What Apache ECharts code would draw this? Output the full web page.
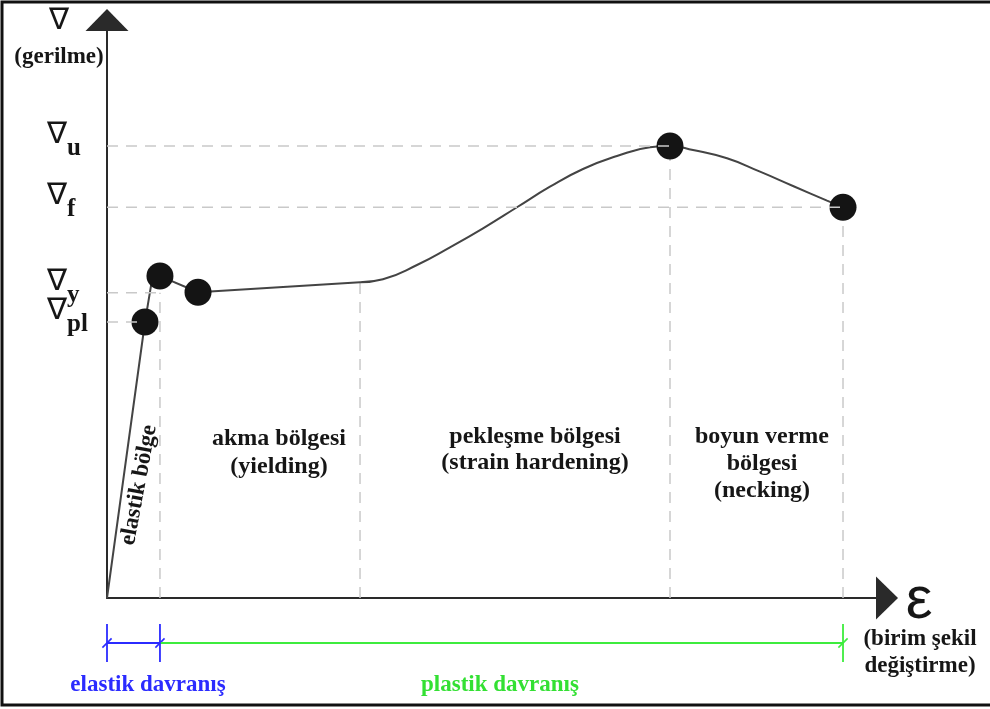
<!DOCTYPE html>
<html>
<head>
<meta charset="utf-8">
<script src="https://cdn.jsdelivr.net/npm/echarts@6/dist/echarts.min.js"></script>
<style>
  html, body { margin: 0; padding: 0; background: #fff; }
  #chart { width: 990px; height: 709px; }
</style>
</head>
<body>
<div id="chart"></div>
<script>
// strain (x) and stress (y) in relative units, 0..100
const curveSharp = [[0, 0], [4.87, 47.75], [5.64, 54.0], [6.79, 55.7], [11.67, 52.9], [32.44, 54.62]]
const curveSmooth = [[32.44, 54.62], [35.38, 55.14], [39.74, 57.61], [43.97, 60.67], [48.21, 63.96],
  [52.56, 67.6], [56.79, 71.16], [61.03, 74.22], [65.38, 76.47], [69.62, 77.98], [72.18, 78.2],
  [75.13, 77.51], [79.49, 76.07], [83.72, 73.76], [87.95, 71.28], [92.31, 68.74], [94.36, 67.6]]
const keyPoints = [[4.87, 47.75], [6.79, 55.7], [11.67, 52.9], [72.18, 78.2], [94.36, 67.6]]

// stress levels on the y axis (pl, y, f, u) and where their guide lines stop
const stressLevels = [47.75, 52.8, 67.6, 78.2]
const stressSubs = ['pl', 'y', 'f', 'u']
const levelEnds = [4.87, 6.79, 94.36, 72.18]

// region boundaries on the strain axis and the height of their guide lines
const regionBounds = [6.79, 32.44, 72.18, 94.36]
const regionTops = [52.8, 54.62, 78.2, 67.6]

const elasticSpan = [0, 6.79]
const plasticSpan = [6.79, 94.36]

const BLUE = '#2b2bff'
const GREEN = '#3dec3d'
const INK = '#161616'
const boldSerif = (size) => 'bold ' + size + 'px "Liberation Serif", "DejaVu Serif", serif'

const chart = echarts.init(document.getElementById('chart'))

const axisArrow = {
  show: true,
  symbol: ['none', 'triangle'],
  symbolSize: [43, 22],
  lineStyle: { color: '#2a2a2a', width: 2 },
}

const guideStyle = { color: '#c9c9c9', width: 1.5, type: [11, 8] }

const guideSeries = []
stressLevels.forEach((y, i) => {
  guideSeries.push({
    type: 'line', xAxisIndex: 0, yAxisIndex: 0, z: 4, silent: true,
    showSymbol: false, lineStyle: guideStyle,
    data: [[0, y], [levelEnds[i], y]],
  })
})
regionBounds.forEach((x, i) => {
  guideSeries.push({
    type: 'line', xAxisIndex: 0, yAxisIndex: 0, z: 1, silent: true,
    showSymbol: false, lineStyle: guideStyle,
    data: [[x, 0], [x, regionTops[i]]],
  })
})

const option = {
  animation: false,
  backgroundColor: '#fff',
  grid: [
    { left: 107, right: 103, top: 20, bottom: 111, outerBoundsMode: 'none', containLabel: false },
    { left: 107, right: 103, top: 625, height: 36, outerBoundsMode: 'none', containLabel: false },
  ],
  xAxis: [
    {
      type: 'value', gridIndex: 0, min: 0, max: 100,
      axisLine: axisArrow,
      axisTick: { show: false }, axisLabel: { show: false }, splitLine: { show: false },
    },
    {
      type: 'value', gridIndex: 1, min: 0, max: 100, show: false,
    },
  ],
  yAxis: [
    {
      type: 'value', gridIndex: 0, min: 0, max: 100,
      axisLine: axisArrow,
      axisTick: { show: false }, axisLabel: { show: false }, splitLine: { show: false },
    },
    {
      type: 'value', gridIndex: 1, min: -1, max: 1, show: false,
    },
  ],
  series: [
    ...guideSeries,
    // stress level labels, placed at the levels on the y axis
    {
      type: 'scatter', xAxisIndex: 0, yAxisIndex: 0, silent: true,
      symbolSize: 0,
      itemStyle: { color: INK, opacity: 1 },
      data: stressLevels.map((y) => [0, y]),
      label: {
        show: true,
        position: [-60, 0],
        align: 'left',
        verticalAlign: 'middle',
        color: INK,
        opacity: 1,
        padding: [0, 0, 11, 0],
        formatter: (p) => '{s|∇}{sub|' + stressSubs[p.dataIndex] + '}',
        rich: {
          s: { fontFamily: '"DejaVu Sans"', fontSize: 30, color: INK, verticalAlign: 'top', lineHeight: 30 },
          sub: {
            fontFamily: '"Liberation Serif", serif', fontWeight: 'bold', fontSize: 25, color: INK,
            verticalAlign: 'bottom', padding: [16, 0, 0, 0],
          },
        },
      },
      labelLayout: { hideOverlap: false },
    },
    {
      type: 'line', xAxisIndex: 0, yAxisIndex: 0, z: 3, silent: true,
      showSymbol: false, data: curveSharp,
      lineStyle: { color: '#444', width: 2 },
    },
    {
      type: 'line', xAxisIndex: 0, yAxisIndex: 0, z: 3, silent: true,
      showSymbol: false, smooth: 0.5, data: curveSmooth,
      lineStyle: { color: '#444', width: 2 },
    },
    {
      type: 'scatter', xAxisIndex: 0, yAxisIndex: 0, z: 3, silent: true,
      symbol: 'circle', symbolSize: 27, data: keyPoints,
      itemStyle: { color: '#141414', opacity: 1 },
    },
    // dimension lines under the axis
    {
      type: 'line', xAxisIndex: 1, yAxisIndex: 1, silent: true,
      data: [{ value: [plasticSpan[0], 0], symbol: 'none' }, [plasticSpan[1], 0]],
      symbol: 'rect', symbolSize: [1.8, 38], showSymbol: true,
      lineStyle: { color: GREEN, width: 2 }, itemStyle: { color: GREEN, opacity: 1 },
    },
    {
      type: 'scatter', xAxisIndex: 1, yAxisIndex: 1, silent: true,
      data: [[plasticSpan[1], 0]],
      symbol: 'rect', symbolSize: [1.6, 13], symbolRotate: -45,
      itemStyle: { color: GREEN, opacity: 1 },
    },
    {
      type: 'line', xAxisIndex: 1, yAxisIndex: 1, silent: true,
      data: elasticSpan.map((x) => [x, 0]),
      symbol: 'rect', symbolSize: [1.8, 38], showSymbol: true,
      lineStyle: { color: BLUE, width: 2 }, itemStyle: { color: BLUE, opacity: 1 },
    },
    {
      type: 'scatter', xAxisIndex: 1, yAxisIndex: 1, silent: true,
      data: elasticSpan.map((x) => [x, 0]),
      symbol: 'rect', symbolSize: [1.6, 13], symbolRotate: -45,
      itemStyle: { color: BLUE, opacity: 1 },
    },
  ],
  graphic: [
    {
      type: 'rect', silent: true, z: 10,
      shape: { x: 2, y: 2, width: 1000, height: 703 },
      style: { fill: 'none', stroke: '#111', lineWidth: 3 },
    },
    {
      type: 'text', x: 59, y: 21, silent: true,
      style: { text: '∇', font: '30px "DejaVu Sans"', fill: INK, align: 'center', verticalAlign: 'middle' },
    },
    {
      type: 'text', x: 59, y: 57, silent: true,
      style: { text: '(gerilme)', font: boldSerif(23), fill: INK, align: 'center', verticalAlign: 'middle' },
    },
    {
      type: 'text', x: 919, y: 601, silent: true,
      style: { text: 'ε', font: '60px "Liberation Sans"', fill: INK, align: 'center', verticalAlign: 'middle' },
    },
    {
      type: 'text', x: 920, y: 653, silent: true,
      style: { text: '(birim şekil\ndeğiştirme)', font: boldSerif(23), lineHeight: 27, fill: INK, align: 'center', verticalAlign: 'middle' },
    },
    {
      type: 'text', x: 139, y: 485, rotation: 79.5 * Math.PI / 180, silent: true,
      style: { text: 'elastik bölge', font: boldSerif(23), fill: INK, align: 'center', verticalAlign: 'middle' },
    },
    {
      type: 'text', x: 279, y: 453, silent: true,
      style: { text: 'akma bölgesi\n(yielding)', font: boldSerif(24), lineHeight: 28, fill: INK, align: 'center', verticalAlign: 'middle' },
    },
    {
      type: 'text', x: 535, y: 450, silent: true,
      style: { text: 'pekleşme bölgesi\n(strain hardening)', font: boldSerif(24), lineHeight: 26, fill: INK, align: 'center', verticalAlign: 'middle' },
    },
    {
      type: 'text', x: 762, y: 464, silent: true,
      style: { text: 'boyun verme\nbölgesi\n(necking)', font: boldSerif(24), lineHeight: 27, fill: INK, align: 'center', verticalAlign: 'middle' },
    },
    {
      type: 'text', x: 148, y: 685, silent: true,
      style: { text: 'elastik davranış', font: boldSerif(23), fill: BLUE, align: 'center', verticalAlign: 'middle' },
    },
    {
      type: 'text', x: 500, y: 685, silent: true,
      style: { text: 'plastik davranış', font: boldSerif(23), fill: '#33e033', align: 'center', verticalAlign: 'middle' },
    },
  ],
}

chart.setOption(option)
</script>
</body>
</html>
